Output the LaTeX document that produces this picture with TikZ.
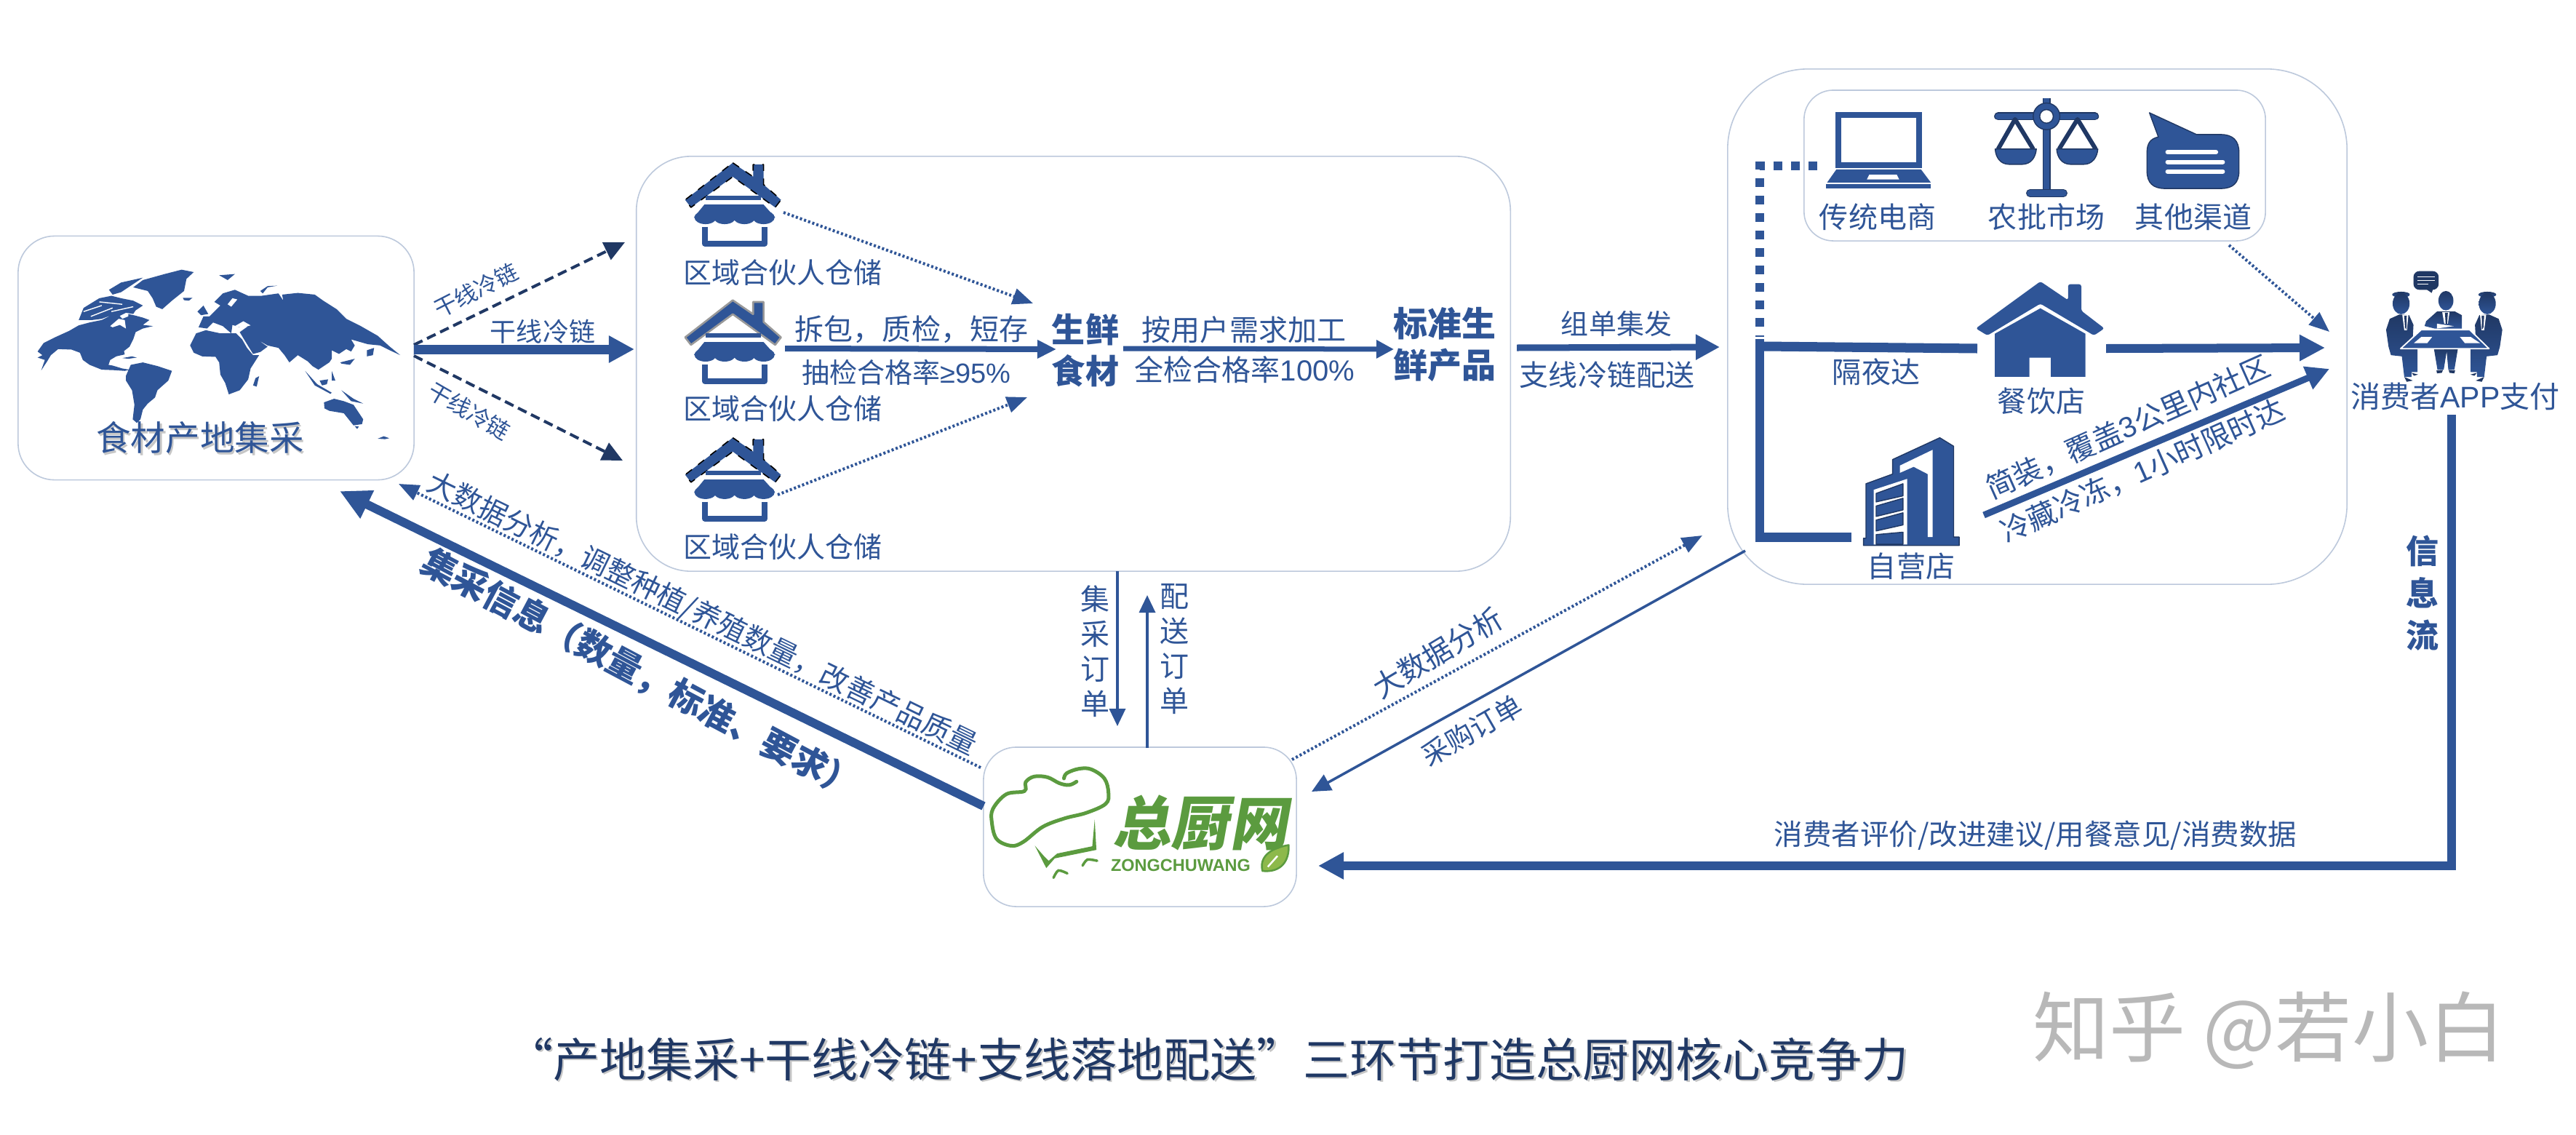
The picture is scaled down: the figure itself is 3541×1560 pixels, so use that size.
\documentclass[tikz,border=0pt]{standalone}
\usepackage{fontspec}
\usetikzlibrary{arrows.meta}
\setmainfont{Noto Sans CJK SC}
\newfontfamily\slantfont[FakeSlant=0.18]{Noto Sans CJK SC}
\newfontfamily\logolat{Liberation Sans}
\newlength\px \setlength\px{0.2845pt}
\newcommand\fs[1]{\fontsize{\fpeval{#1*0.2845}}{\fpeval{#1*0.2845*1.2}}\selectfont}
\newcommand\fsl[2]{\fontsize{\fpeval{#1*0.2845}}{\fpeval{#2*0.2845}}\selectfont}
\newcommand\shtext[1]{\leavevmode\rlap{\raisebox{-2.5\px}{\hspace{2.5\px}\textcolor{gray!45}{#1}}}#1}
\definecolor{blu}{HTML}{2F5597}
\definecolor{nav}{HTML}{203864}
\definecolor{grn}{HTML}{5B9B3F}
\definecolor{lgn}{HTML}{8DB94B}
\definecolor{edge}{HTML}{BDC9DC}
\tikzset{
  lab/.style={text=blu,inner sep=0pt,align=center},
  roundbox/.style={draw=edge,line width=1.6\px,fill=white,inner sep=0pt,rounded corners=#1\px},
  tip/.style n args={2}{-{Triangle[length=\fpeval{#1*0.2845}pt,width=\fpeval{#2*0.2845}pt]}},
  z2/.style={shift={(850,200)},x=0.007974cm,y=-0.003827cm},
  z3/.style={shift={(2300,80)},x=0.007915cm,y=-0.004847cm},
  tri/.style 2 args={shift={(#1,#2)},x=0.003333cm,y=-0.003333cm},
  dotline/.style={line width=4\px,dash pattern=on 3\px off 3\px},
  dashline/.style={line width=4\px,dash pattern=on 13\px off 7\px},
  icon/.style={fill=blu,draw=nav,line width=1.4\px,line join=round},
}
\newcommand\warehouse[2]{%
\begin{scope}[z2]\begin{scope}[shift={(0,#1)}]
  \draw[#2,fill=blu,line join=round] (197,62)--(232,112)--(232,68)--(250,68)--(250,140)--(280,195)--(270,222)--(197,112)--(125,222)--(115,195)--cycle;
  \fill[blu] (150,180) rectangle (245,197);
  \fill[blu] (148,212)--(250,212)--(270,258)--(130,258)--cycle;
  \foreach \cx in {150,183,217,250}{\fill[blu] (\cx,258) ellipse [x radius=19,y radius=24];}
  \draw[blu,line width=8\px,line join=round] (149,292)--(149,352)--(252,352)--(252,292);
\end{scope}\end{scope}}
\newcommand\sideperson{%
  \shade[top color=nav,bottom color=blu] (152,105) ellipse [x radius=37,y radius=12];
  \shade[top color=nav,bottom color=blu] (152,142) ellipse [x radius=35,y radius=44];
  \shade[top color=nav,bottom color=blu] (145,187)--(105,205)--(90,250)--(100,320)--(110,355)--(155,360)--(165,445)--(195,445)--(195,425)--(220,425)--(220,330)--(190,320)--(200,285)--(203,230)--(185,190)--cycle;
  \fill[white] (157,190)--(182,190)--(176,252)--(165,252)--cycle;
  \fill[nav] (165,192)--(175,192)--(174,250)--(168,240)--cycle;
  \fill[nav] (165,445)--(200,460)--(175,465)--cycle;
  \fill[nav] (195,428)--(222,435)--(205,440)--cycle;
}
\begin{document}
\begin{tikzpicture}[x=0.01cm,y=-0.01cm]
\useasboundingbox (0,0) rectangle (3541,1560);
\fill[white] (0,0) rectangle (3541,1560);

% boxes
\node[roundbox=50,minimum width=544\px,minimum height=335\px] (mapbox) at (297,492) {};
\node[roundbox=75,minimum width=1201\px,minimum height=570\px] (hubbox) at (1475.5,500) {};
\node[roundbox=110,minimum width=851\px,minimum height=708\px] (storebox) at (2800.5,449) {};
\node[roundbox=40,minimum width=634\px,minimum height=207\px] (chanbox) at (2797,227.5) {};
\node[roundbox=45,minimum width=430\px,minimum height=219\px] (logobox) at (1567,1136.5) {};

% world map
\begin{scope}[tri={40}{360}]
\fill[blu]
 (35,370)--(60,335)--(110,310)--(165,285)--(205,262)--(250,250)--(300,240)--(340,220)--(362,210)--(385,235)--(410,225)--(410,215)--(440,222)--(470,230)--(497,240)--(470,260)--(512,265)--(470,275)--(440,290)--(430,320)--(415,350)--(392,368)--(395,382)--(360,390)--(335,405)--(328,425)--(345,428)--(385,440)--(415,445)--(395,450)--(352,447)--(300,445)--(250,425)--(222,405)--(210,375)--(175,362)--(120,360)--(90,385)--(75,410)--(50,448)--(65,405)--(35,395)--(55,385)--cycle
 (205,240)--(225,190)--(290,150)--(340,140)--(380,150)--(430,160)--(470,180)--(440,200)--(430,215)--(400,210)--(370,225)--(340,220)--(300,235)--(260,240)--cycle
 (330,115)--(380,85)--(470,65)--(440,85)--(380,125)--(345,135)--cycle
 (430,105)--(470,75)--(560,50)--(630,32)--(680,42)--(650,70)--(640,120)--(590,160)--(550,195)--(525,185)--(510,150)--(490,120)--cycle
 (385,397)--(425,390)--(445,395)--(410,400)--cycle
 (400,470)--(420,425)--(470,415)--(530,430)--(590,450)--(575,490)--(530,530)--(520,560)--(490,585)--(470,610)--(460,650)--(445,665)--(428,650)--(435,590)--(425,530)--(400,490)--cycle
 (665,345)--(690,295)--(730,282)--(790,295)--(855,295)--(880,320)--(900,355)--(925,385)--(950,385)--(915,440)--(905,485)--(870,530)--(825,547)--(810,500)--(790,465)--(785,415)--(770,392)--(715,390)--(680,375)--cycle
 (700,270)--(720,225)--(745,225)--(790,180)--(765,165)--(800,130)--(850,115)--(905,140)--(960,140)--(1030,130)--(1050,160)--(1045,135)--(1110,128)--(1180,135)--(1215,160)--(1270,195)--(1310,235)--(1370,265)--(1440,305)--(1490,350)--(1533,385)--(1490,365)--(1450,345)--(1400,340)--(1330,320)--(1345,345)--(1330,370)--(1310,360)--(1280,380)--(1250,365)--(1250,400)--(1240,415)--(1195,445)--(1170,430)--(1150,410)--(1110,385)--(1075,415)--(1055,385)--(1030,355)--(985,345)--(945,322)--(985,350)--(955,372)--(925,380)--(885,315)--(870,290)--(905,265)--(870,270)--(840,260)--(835,295)--(800,265)--(760,250)--(735,275)--cycle
 (695,205)--(720,180)--(740,215)--(710,220)--cycle
 (635,148)--(675,148)--(660,160)--(640,158)--cycle
 (785,55)--(850,50)--(820,75)--cycle
 (955,120)--(985,100)--(1025,98)--(985,105)--(965,130)--cycle
 (925,510)--(935,480)--(950,472)--(940,515)--cycle
 (1218,580)--(1260,565)--(1300,575)--(1340,590)--(1380,650)--(1375,670)--(1340,675)--(1300,625)--(1240,615)--(1220,605)--cycle
 (1345,678)--(1362,680)--(1355,690)--cycle
 (1440,730)--(1465,720)--(1488,728)--(1470,732)--cycle
 (1395,365)--(1425,355)--(1420,385)--(1395,390)--cycle
 (1285,415)--(1345,400)--(1325,425)--(1290,420)--cycle
 (1140,450)--(1190,505)--(1250,540)--(1245,545)--(1180,510)--cycle
 (1200,490)--(1235,485)--(1230,505)--(1210,510)--cycle
 (1290,530)--(1340,565)--(1380,585)--(1330,575)--cycle
 (1250,450)--(1265,490)--(1250,490)--cycle;
\fill[white] (335,265)--(370,235)--(395,240)--(400,275)--(375,260)--(345,270)--cycle
 (850,265)--(885,245)--(915,262)--(880,272)--cycle
 (820,175)--(840,150)--(860,155)--(835,185)--cycle;
\draw[white,line width=1.4\px] (225,205)--(300,180) (255,225)--(345,190) (290,165)--(385,175) (340,205)--(430,185);
\end{scope}

% warehouses
\warehouse{0}{black,dashed,line width=1.6\px}
\warehouse{493}{gray!80,line width=2.6\px}
\warehouse{986}{black,dashed,line width=1.6\px}

% laptop, home
\begin{scope}[z3]
  \draw[blu,line width=8\px] (287,160) rectangle (427,302);
  \fill[blu] (283,315)--(430,315)--(447,352)--(267,352)--cycle;
  \fill[white] (340,330)--(388,330)--(392,343)--(336,343)--cycle;
  \fill[blu] (265,356) rectangle (447,368);
  \fill[blu,rounded corners=3\px] (637,632)--(525,765)--(545,785)--(637,695)--(730,785)--(748,765)--(708,715)--(708,640)--(685,640)--(685,685)--cycle;
  \fill[blu] (558,780)--(637,708)--(715,780)--(715,902)--(655,902)--(655,848)--(618,848)--(618,902)--(558,902)--cycle;
\end{scope}

% balance and chat bubble
\begin{scope}[tri={2700}{120}]
  \draw[nav,line width=11\px] (340,45)--(340,425);
  \draw[blu,line width=8.5\px] (340,45)--(340,425);
  \draw[nav,line width=11\px,line cap=round] (140,120)--(540,120);
  \draw[blu,line width=8.5\px,line cap=round] (140,120)--(540,120);
  \draw[nav,line width=11\px,line cap=round] (272,437)--(410,437);
  \draw[blu,line width=8.5\px,line cap=round] (272,437)--(410,437);
  \draw[nav,line width=6\px,line join=round] (140,255)--(210,132)--(285,255) (392,255)--(468,132)--(543,255);
  \draw[icon] (340,120) circle [radius=55];
  \draw[nav,fill=white,line width=1.4\px] (340,120) circle [radius=28];
  \draw[icon] (128,255)--(298,255) .. controls (295,290) and (275,318) .. (240,318) -- (185,318) .. controls (150,318) and (130,290) .. (128,255) -- cycle;
  \draw[icon] (382,255)--(552,255) .. controls (549,290) and (529,318) .. (494,318) -- (439,318) .. controls (404,318) and (384,290) .. (382,255) -- cycle;
  \draw[icon] (765,105)--(960,195)--(1060,195) .. controls (1110,195) and (1135,220) .. (1135,270) -- (1135,345) .. controls (1135,395) and (1110,418) .. (1060,418) -- (830,418) .. controls (780,418) and (755,395) .. (755,345) -- (755,270) .. controls (755,230) and (770,212) .. (802,205) -- cycle;
  \draw[white,line width=6\px,line cap=round] (840,268)--(1040,268) (840,308)--(1068,308) (840,348)--(1068,348);
\end{scope}

% tower
\begin{scope}[tri={2540}{590}]
  \draw[icon] (185,125)--(380,35)--(437,70)--(437,445)--(460,445)--(460,480)--(65,480)--(65,450)--(75,450)--(75,225)--(185,185)--cycle;
  \fill[white] (215,150)--(350,85)--(350,445)--(330,445)--(330,185)--(272,155)--(215,180)--cycle;
  \fill[white] (107,250)--(245,205)--(245,476)--(107,476)--cycle;
  \draw[icon] (117,265)--(228,225)--(228,275)--(117,300)--cycle;
  \draw[icon] (117,317)--(228,285)--(228,333)--(117,360)--cycle;
  \draw[icon] (117,375)--(228,345)--(228,395)--(117,420)--cycle;
  \draw[icon] (117,435)--(228,425)--(228,475)--(117,475)--cycle;
\end{scope}

% people
\begin{scope}[tri={3250}{370}]
  \fill[nav,rounded corners=8\px] (203,8) rectangle (307,85);
  \fill[nav] (255,82)--(284,82)--(278,98)--cycle;
  \draw[white,line width=1.4\px] (220,32)--(290,32) (220,47)--(290,47) (220,62)--(265,62);
  \sideperson
  \begin{scope}[xscale=-1,xshift=-660*0.003333cm]\sideperson\end{scope}
  \shade[top color=nav,bottom color=blu] (337,130) ellipse [x radius=31,y radius=40];
  \shade[top color=nav,bottom color=blu] (300,175)--(375,175)--(403,190)--(403,245)--(290,245)--(250,235)--(255,215)--cycle;
  \fill[white] (322,178)--(352,178)--(345,225)--(330,225)--cycle;
  \fill[nav] (333,180)--(345,180)--(342,225)--(336,225)--cycle;
  \fill[white] (300,225)--(370,235)--(300,245)--cycle;
  \shade[top color=nav,bottom color=blu] (287,325)--(387,325)--(372,415)--(347,415)--(340,340)--(328,415)--(302,415)--cycle;
  \fill[nav] (298,418)--(325,416)--(320,428)--(300,430)--cycle (348,416)--(375,418)--(372,430)--(352,428)--cycle;
  \draw[white,fill=blu,line width=1.8\px,line join=round] (150,328)--(235,250)--(435,250)--(515,328)--cycle;
  \fill[white] (235,280)--(280,280)--(260,305)--(205,305)--cycle (395,280)--(440,280)--(478,305)--(415,305)--cycle;
\end{scope}

% logo
\begin{scope}[tri={1360}{1040}]
  \draw[grn,line width=5\px,line cap=round] plot[smooth,tension=.6] coordinates {(360,103) (330,117) (290,110) (240,85) (185,82) (150,105) (145,142) (70,155) (15,215) (10,270) (30,340) (90,368) (140,352) (220,290) (310,255) (400,232) (480,195) (492,150) (475,90) (420,52) (370,50) (320,68) (308,90)};
  \fill[grn] (435,260)--(442,385)--(270,420)--(235,460)--(188,368)--(225,410)--(245,430)--(280,400)--(425,370)--cycle;
  \draw[grn,line width=3.5\px,line cap=round] plot[smooth] coordinates {(385,450) (405,425) (445,430)};
  \draw[grn,line width=3.5\px,line cap=round] plot[smooth] coordinates {(265,500) (285,470) (322,482)};
  \draw[grn,fill=lgn,line width=2.5\px,line join=round] (1128,472) .. controls (1115,420) and (1150,380) .. (1236,365) .. controls (1240,430) and (1205,480) .. (1128,472) -- cycle;
  \draw[white,line width=2.5\px] (1150,455) -- (1190,410);
\end{scope}
\node[inner sep=0pt,text=grn,font={\fs{80}\slantfont\bfseries}] (logoname) at (1650,1131) {总厨网};
\node[inner sep=0pt,text=grn,font={\fs{23.5}\logolat\bfseries}] (logolatin) at (1623,1189) {ZONGCHUWANG};

% coordinates
\coordinate (mapA) at (569,474); \coordinate (wareA) at (859,333);
\coordinate (mapB) at (569,480); \coordinate (wareB) at (872,480);
\coordinate (mapC) at (569,489); \coordinate (wareC) at (856,633);
\coordinate (logoA) at (1348,1055); \coordinate (mapD) at (548,665);
\coordinate (logoB) at (1352,1108); \coordinate (mapE) at (467,675);
\coordinate (wTop) at (1077,292); \coordinate (fresh1) at (1420,417);
\coordinate (wMid) at (1079,479); \coordinate (fresh2) at (1452,480);
\coordinate (wBot) at (1069,680); \coordinate (fresh3) at (1412,546);
\coordinate (fresh4) at (1544,479); \coordinate (std1) at (1916,480);
\coordinate (std2) at (2085,478); \coordinate (store1) at (2364,477);
\coordinate (hubA) at (1536,785); \coordinate (logoC) at (1536,998);
\coordinate (logoD) at (1577,1028); \coordinate (hubB) at (1577,818);
\coordinate (lap) at (2498,228); \coordinate (cornA) at (2419,228); \coordinate (juncA) at (2419,463);
\coordinate (juncB) at (2419,466); \coordinate (juncC) at (2419,745);
\coordinate (eat1) at (2425,476); \coordinate (eat2) at (2718,479);
\coordinate (tow1) at (2419,738); \coordinate (tow2) at (2545,738);
\coordinate (eat3) at (2895,479); \coordinate (cons1) at (3196,478);
\coordinate (tow3) at (2727,708); \coordinate (cons2) at (3202,507);
\coordinate (chan1) at (3064,337); \coordinate (cons3) at (3202,456);
\coordinate (store2) at (2399,757); \coordinate (logoE) at (1803,1088);
\coordinate (logoF) at (1776,1044); \coordinate (store3) at (2340,736);
\coordinate (cons4) at (3370,570); \coordinate (cornB) at (3370,1190); \coordinate (logoG) at (1812,1190);

% connectors
\draw[nav,dashline,tip={28}{26}] (mapA)--(wareA);
\draw[nav,dashline,tip={28}{26}] (mapC)--(wareC);
\draw[blu,line width=13\px,tip={35}{35}] (mapB)--(wareB);
\draw[blu,dotline,tip={28}{22}] (logoA)--(mapD);
\draw[blu,line width=12\px,tip={42}{40}] (logoB)--(mapE);
\draw[blu,dotline,tip={28}{22}] (wTop)--(fresh1);
\draw[blu,line width=8\px,tip={26}{24}] (wMid)--(fresh2);
\draw[blu,dotline,tip={28}{22}] (wBot)--(fresh3);
\draw[blu,line width=7\px,tip={24}{24}] (fresh4)--(std1);
\draw[blu,line width=9\px,tip={33}{33}] (std2)--(store1);
\draw[blu,line width=3.5\px,tip={24}{22}] (hubA)--(logoC);
\draw[blu,line width=3.5\px,tip={24}{22}] (logoD)--(hubB);
\draw[blu,line width=12\px,dash pattern=on 12\px off 12\px] (lap)--(cornA)--(juncA);
\draw[blu,line width=12\px] (juncB)--(juncC);
\draw[blu,line width=13\px] (eat1)--(eat2);
\draw[blu,line width=13\px] (tow1)--(tow2);
\draw[blu,line width=12\px,tip={35}{34}] (eat3)--(cons1);
\draw[blu,line width=9\px,tip={32}{32}] (tow3)--(cons2);
\draw[blu,dotline,tip={28}{22}] (chan1)--(cons3);
\draw[blu,line width=3.5\px,tip={26}{24}] (store2)--(logoE);
\draw[blu,dotline,tip={28}{22}] (logoF)--(store3);
\draw[blu,line width=12\px,line join=miter,tip={35}{35}] (cons4)--(cornB)--(logoG);

% labels
\node[lab,font=\fs{31},rotate=27] (t1) at (654,399) {干线冷链};
\node[lab,font=\fs{36}] (t2) at (746,456) {干线冷链};
\node[lab,font=\fs{31},rotate=-30] (t3) at (645,565) {干线冷链};
\node[lab,font=\fs{47.5}] (t4) at (275,603) {\shtext{食材产地集采}};
\node[lab,font=\fs{39}] (t5) at (1076,375) {区域合伙人仓储};
\node[lab,font=\fs{39}] (t6) at (1076,562) {区域合伙人仓储};
\node[lab,font=\fs{39}] (t7) at (1076,752) {区域合伙人仓储};
\node[lab,font=\fs{40}] (t8) at (1253,453) {拆包，质检，短存};
\node[lab,font=\fs{38}] (t9) at (1246,512) {抽检合格率{\logolat ≥95\%}};
\node[lab,font={\fsl{46}{57}\bfseries}] (t10) at (1492,481) {生鲜\\食材};
\node[lab,font=\fs{40}] (t11) at (1710,453) {按用户需求加工};
\node[lab,font=\fs{40}] (t12) at (1711,508) {全检合格率{\logolat 100\%}};
\node[lab,font={\fsl{47}{57}\bfseries}] (t13) at (1986,473) {标准生\\鲜产品};
\node[lab,font=\fs{38}] (t14) at (2222,445) {组单集发};
\node[lab,font=\fs{40}] (t15) at (2209,515) {支线冷链配送};
\node[lab,font=\fs{40}] (t16) at (2581,298) {传统电商};
\node[lab,font=\fs{40}] (t17) at (2813,298) {农批市场};
\node[lab,font=\fs{40}] (t18) at (3015,298) {其他渠道};
\node[lab,font=\fs{40}] (t19) at (2579,511) {隔夜达};
\node[lab,font=\fs{40}] (t20) at (2806,551) {餐饮店};
\node[lab,font=\fs{40}] (t21) at (2627,778) {自营店};
\node[lab,font=\fs{40},rotate=24] (t22) at (2925,587) {简装，覆盖{\logolat 3}公里内社区};
\node[lab,font=\fs{40},rotate=24] (t23) at (2945,647) {冷藏冷冻，{\logolat 1}小时限时达};
\node[lab,font=\fs{41}] (t24) at (3375,545) {消费者{\logolat APP}支付};
\node[lab,font={\fsl{45}{58}\bfseries}] (t25) at (3330,815) {信\\息\\流};
\node[lab,font=\fs{39.5}] (t26) at (2798,1148) {消费者评价/改进建议/用餐意见/消费数据};
\node[lab,font=\fs{38},rotate=30] (t27) at (2023,1004) {采购订单};
\node[lab,font=\fs{40},rotate=31] (t28) at (1976,897) {大数据分析};
\node[lab,font=\fs{39},rotate=-26] (t29) at (965,844) {大数据分析，调整种植/养殖数量，改善产品质量};
\node[lab,font={\fs{48}\bfseries},rotate=-28] (t30) at (880,926) {集采信息（数量，标准、要求）};
\node[lab,font=\fsl{40}{48}] (t31) at (1505,895) {集\\采\\订\\单};
\node[lab,font=\fsl{40}{48}] (t32) at (1614,892) {配\\送\\订\\单};
\node[lab,text=nav,font=\fs{64}] (t33) at (1660,1457) {\shtext{“产地集采+干线冷链+支线落地配送”三环节打造总厨网核心竞争力}};
\node[inner sep=0pt,text=black!28,font=\fs{105}] (t34) at (3119,1416) {知乎 @若小白};
\end{tikzpicture}
\end{document}
